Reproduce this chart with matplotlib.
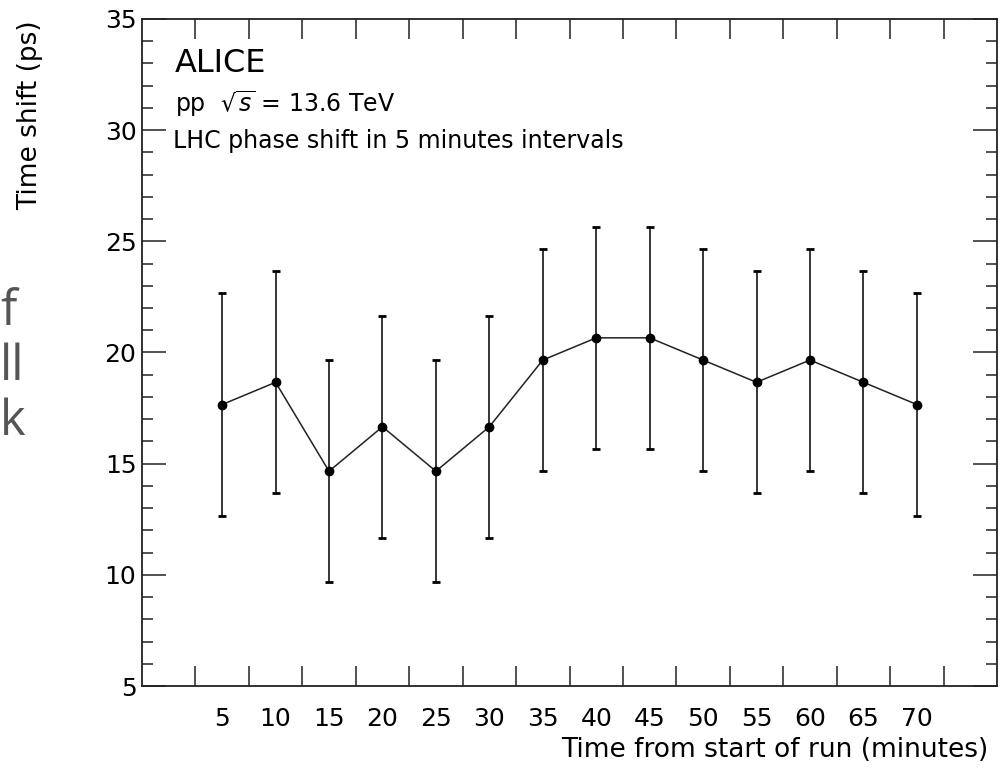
import matplotlib
matplotlib.use("Agg")
import matplotlib.pyplot as plt
from matplotlib.ticker import FixedLocator, MultipleLocator, NullFormatter, FixedFormatter

plt.rcParams["font.family"] = ["DejaVu Sans"]
plt.rcParams["mathtext.fontset"] = "dejavusans"

# LHC phase shift per 5-minute interval
minutes = [5, 10, 15, 20, 25, 30, 35, 40, 45, 50, 55, 60, 65, 70]
shift_ps = [17.66, 18.66, 14.66, 16.66, 14.66, 16.66, 19.66,
            20.66, 20.66, 19.66, 18.66, 19.66, 18.66, 17.66]
shift_err = [5.0] * len(minutes)
tick_labels = [str(m) for m in minutes]

W, H = 1007, 768
fig = plt.figure(figsize=(W / 100, H / 100), dpi=100)
ax = fig.add_axes([142 / W, 82 / H, 855 / W, 667 / H])

ax.errorbar(minutes, shift_ps, yerr=shift_err, fmt="none", ecolor="black",
            elinewidth=1.1, capsize=2.6, capthick=2)
ax.plot(minutes, shift_ps, color="#222222", lw=1.1, marker="o",
        markersize=6, markerfacecolor="black", markeredgecolor="black")

ax.set_xlim(-2.5, 77.5)
ax.set_ylim(5, 35)

# bin edges carry the tick marks, bin centres carry the labels
edges = [m - 2.5 for m in minutes] + [minutes[-1] + 2.5]
ax.xaxis.set_major_locator(FixedLocator(edges))
ax.xaxis.set_major_formatter(NullFormatter())
ax.xaxis.set_minor_locator(FixedLocator(minutes))
ax.xaxis.set_minor_formatter(FixedFormatter(tick_labels))
ax.tick_params(axis="x", which="major", direction="in", length=14.4, width=1.1,
               top=True, bottom=True, color="#222222")
ax.tick_params(axis="x", which="minor", length=0, pad=15, labelsize=18)

ax.yaxis.set_major_locator(MultipleLocator(5))
ax.yaxis.set_minor_locator(MultipleLocator(1))
ax.tick_params(axis="y", which="major", direction="in", length=17.3, width=1.1,
               left=True, right=True, labelsize=18, pad=4, color="#222222")
ax.tick_params(axis="y", which="minor", direction="in", length=8, width=1.1,
               left=True, right=True, color="#222222")

for s in ax.spines.values():
    s.set_linewidth(1.3)
    s.set_color("#222222")

# annotation block
ax.text(175 / W, 1 - 72.5 / H, "ALICE", transform=fig.transFigure,
        fontsize=23, ha="left", va="baseline")
ax.text(175 / W, 1 - 112 / H, r"pp  $\sqrt{s}$ = 13.6 TeV", transform=fig.transFigure,
        fontsize=17, ha="left", va="baseline")
ax.text(173 / W, 1 - 148 / H, "LHC phase shift in 5 minutes intervals",
        transform=fig.transFigure, fontsize=17, ha="left", va="baseline")

# axis titles
fig.text(988 / W, 1 - 757 / H, "Time from start of run (minutes)",
         fontsize=19, ha="right", va="baseline")
fig.text(30 / W, 1 - 20 / H, "Time shift (ps)", fontsize=19,
         rotation=90, ha="center", va="top")

# slide text at the left border
for word, base in [("f", 325), ("ll", 380), ("k", 435)]:
    fig.text(0, 1 - base / H, word, fontsize=35, color="#555555",
             family="Open Sans", ha="left", va="baseline")

fig.savefig("out.png", dpi=100)
